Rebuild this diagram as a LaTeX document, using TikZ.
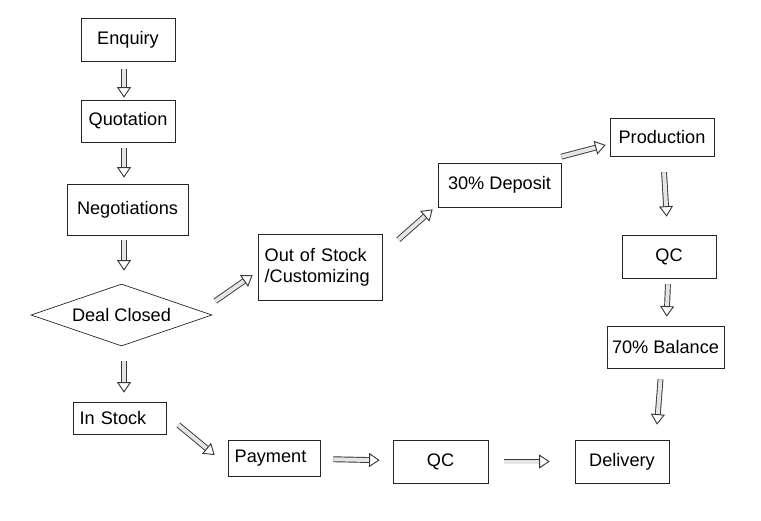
\documentclass[tikz,border=0pt]{standalone}
\usepackage{fontspec}
\setmainfont{Liberation Sans}
\usetikzlibrary{shapes.geometric,arrows.meta}

\begin{document}
\begin{tikzpicture}[
    x=0.03cm,
    y=-0.03cm,
    every node/.style={font=\fontsize{15.5}{18}\selectfont},
    stage/.style={draw=black!85, line width=0.6pt, inner sep=0pt, align=center},
    leftstage/.style={stage, align=left, inner xsep=0.2cm},
    decision/.style={draw=black!85, line width=0.6pt, diamond, aspect=2.9, inner sep=0pt},
    flow/.style={draw=gray!45!black, line width=0.8pt, double=gray!20, double distance=3.4pt,
                 -{Triangle[open, length=9pt, width=12pt]},
                 shorten <=0.2cm, shorten >=0.1cm}
]

% =========================================================
% MARGINI
% =========================================================

\useasboundingbox (0,0) rectangle (761,520);

% =========================================================
% COLONNA SINISTRA
% =========================================================

\node[stage, minimum width=2.82cm, minimum height=1.29cm] (enquiry) at (128,40) {Enquiry};
\node[stage, minimum width=2.82cm, minimum height=1.26cm] (quotation) at (128,121) {Quotation};
\node[stage, minimum width=3.63cm, minimum height=1.53cm] (negotiations) at (127.5,209.5) {Negotiations};
\node[decision, minimum width=5.43cm, minimum height=1.86cm] (deal) at (121.5,315) {Deal Closed};
\node[leftstage, text width=2.39cm, minimum height=0.96cm] (instock) at (119.5,418) {In Stock};

% =========================================================
% RIGA INFERIORE
% =========================================================

\node[leftstage, text width=2.36cm, minimum height=1.08cm] (payment) at (274,458) {Payment};
\node[stage, minimum width=2.85cm, minimum height=1.29cm] (qcstock) at (440.5,461.5) {QC};
\node[stage, minimum width=2.82cm, minimum height=1.29cm] (delivery) at (622,461.5) {Delivery};

% =========================================================
% RAMO PRODUZIONE
% =========================================================

\node[leftstage, text width=3.32cm, minimum height=1.98cm] (outstock) at (320,267) {Out of Stock\\/Customizing};
\node[stage, minimum width=3.69cm, minimum height=1.32cm] (deposit) at (499.5,185) {30\% Deposit};
\node[stage, minimum width=3.12cm, minimum height=1.14cm] (production) at (662,137) {Production};
\node[stage, minimum width=2.82cm, minimum height=1.29cm] (qcprod) at (669,256.5) {QC};
\node[stage, minimum width=3.51cm, minimum height=1.26cm] (balance) at (665.5,347) {70\% Balance};

% =========================================================
% FRECCE
% =========================================================

% Colonna sinistra
\draw[flow, shorten <=0.21cm, shorten >=0.06cm]
([xshift=-0.12cm]enquiry.south) -- ([xshift=-0.12cm]quotation.north);
\draw[flow, shorten <=0.18cm, shorten >=0.18cm]
([xshift=-0.12cm]quotation.south) -- ([xshift=-0.105cm]negotiations.north);
\draw[flow, shorten <=0.15cm, shorten >=0.39cm]
([xshift=-0.105cm]negotiations.south) -- ([xshift=0.075cm]deal.north);
\draw[flow, shorten <=0.45cm, shorten >=0.27cm]
([xshift=0.075cm]deal.south) -- ([xshift=0.135cm]instock.north);

% Magazzino
\draw[flow, shorten <=0pt, shorten >=0pt]
([xshift=0.36cm, yshift=-0.21cm]instock.east) -- ([xshift=-0.39cm, yshift=0.09cm]payment.west);
\draw[flow, shorten <=0.39cm, shorten >=0.39cm] (payment) -- (qcstock);
\draw[flow, shorten <=0.48cm, shorten >=0.75cm] (qcstock) -- (delivery);

% Produzione
\draw[flow, shorten <=0pt, shorten >=0pt]
([xshift=0.09cm, yshift=0.42cm]deal.east) -- ([xshift=-0.15cm, yshift=-0.24cm]outstock.west);
\draw[flow, shorten <=0pt, shorten >=0pt]
([xshift=0.48cm, yshift=-0.18cm]outstock.north east) -- ([xshift=-0.15cm, yshift=-0.06cm]deposit.south west);
\draw[flow, shorten <=0pt, shorten >=0pt]
([yshift=0.18cm]deposit.north east) -- ([xshift=-0.12cm, yshift=-0.24cm]production.west);
\draw[flow, shorten <=0.48cm, shorten >=0.54cm] (production) -- (qcprod);
\draw[flow, shorten <=0.18cm, shorten >=0.27cm] (qcprod) -- (balance);
\draw[flow, shorten <=0pt, shorten >=0pt]
([xshift=-0.15cm, yshift=-0.33cm]balance.south) -- ([xshift=1.05cm, yshift=0.45cm]delivery.north);

\end{tikzpicture}
\end{document}
